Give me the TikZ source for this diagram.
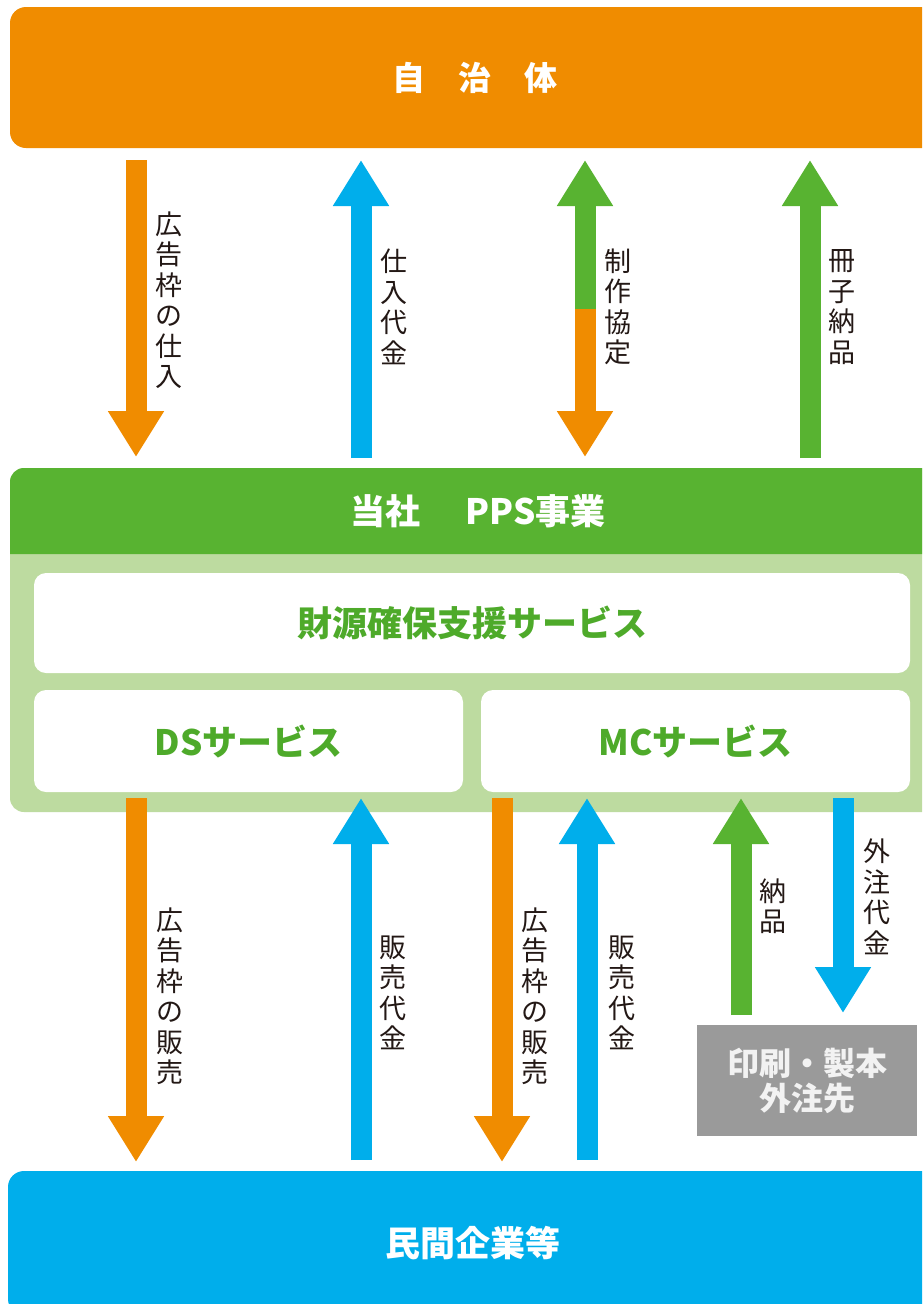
\documentclass[tikz,border=0pt]{standalone}
\usepackage{fontspec}
\usetikzlibrary{arrows.meta}
\newfontfamily\cjk{Noto Sans CJK JP}
\definecolor{cOrange}{RGB}{240,140,0}
\definecolor{cBlue}{RGB}{0,174,235}
\definecolor{cGreen}{RGB}{88,179,49}
\definecolor{cGreenText}{RGB}{78,170,42}
\definecolor{cLight}{RGB}{189,219,160}
\definecolor{cGray}{RGB}{154,154,154}
\definecolor{cGrayText}{RGB}{242,242,242}
\definecolor{cText}{RGB}{35,24,21}
\tikzset{
  arr/.style={line width=21pt},
  tipd/.style={-{Triangle[width=53pt,length=46pt]}},
  lbl/.style={font=\cjk\fontsize{27}{30.5}\selectfont, text=cText, align=center, inner sep=0pt},
  titlefont/.style={font=\cjk\bfseries\fontsize{35}{40}\selectfont, text=white},
  bigbox/.style={titlefont, inner sep=0pt, rounded corners=16pt, minimum width=930pt},
  wbox/.style={fill=white, rounded corners=12pt, inner sep=0pt, font=\cjk\bfseries\fontsize{35}{40}\selectfont, text=cGreenText},
}
\begin{document}
\begin{tikzpicture}[x=1pt,y=-1pt]
\clip (0,0) rectangle (922,1304);
\fill[white] (0,0) rectangle (922,1304);

% top box
\node[bigbox, fill=cOrange, minimum height=141pt, font=\cjk\bfseries\fontsize{33}{40}\selectfont] (jichitai) at (475,77.5) {自　治　体};

% PPS panel
\node[fill=cLight, rounded corners=14pt, minimum width=930pt, minimum height=344pt, inner sep=0pt] (panel) at (475,640) {};
\fill[cGreen] (10,554) {[rounded corners=14pt] -- (10,468) -- (940,468)} -- (940,554) -- cycle;
\node[titlefont, inner sep=0pt] (pps) at (478,511) {当社　\hspace{10pt}PPS事業};
\node[wbox, minimum width=876pt, minimum height=100pt] (zaigen) at (472,623) {財源確保支援サービス};
\node[wbox, minimum width=429pt, minimum height=102pt] (ds) at (248.5,741) {DSサービス};
\node[wbox, minimum width=429pt, minimum height=102pt] (mc) at (695.5,741) {MCサービス};

% bottom box
\node[bigbox, fill=cBlue, minimum height=144pt] (minkan) at (473,1243) {民間企業等};

% outsourcing box
\node[fill=cGray, minimum width=220pt, minimum height=111pt, inner sep=0pt, align=center,
      font=\cjk\bfseries\fontsize{32}{35}\selectfont, text=cGrayText] (gaichu) at (807,1080.5) {印刷・製本\\外注先};

% arrow end points (upper)
\coordinate (a1s) at (136,160); \coordinate (a1e) at (136,457);
\coordinate (a2s) at (361,458); \coordinate (a2e) at (361,160);
\coordinate (a3m) at (585,309); \coordinate (a3t) at (585,160); \coordinate (a3b) at (585,457);
\coordinate (a4s) at (810,458); \coordinate (a4e) at (810,160);
% lower
\coordinate (b1s) at (136,798); \coordinate (b1e) at (136,1162);
\coordinate (b2s) at (361,1160); \coordinate (b2e) at (361,798);
\coordinate (b3s) at (502,798); \coordinate (b3e) at (502,1162);
\coordinate (b4s) at (587,1160); \coordinate (b4e) at (587,798);
\coordinate (b5s) at (741,1015); \coordinate (b5e) at (741,798);
\coordinate (b6s) at (843,798); \coordinate (b6e) at (843,1013);

\draw[arr, tipd, cOrange] (a1s) -- (a1e);
\draw[arr, tipd, cBlue] (a2s) -- (a2e);
\draw[arr, tipd, cGreen] (a3m) -- (a3t);
\draw[arr, tipd, cOrange] (a3m) -- (a3b);
\draw[arr, tipd, cGreen] (a4s) -- (a4e);

\draw[arr, tipd, cOrange] (b1s) -- (b1e);
\draw[arr, tipd, cBlue] (b2s) -- (b2e);
\draw[arr, tipd, cOrange] (b3s) -- (b3e);
\draw[arr, tipd, cBlue] (b4s) -- (b4e);
\draw[arr, tipd, cGreen] (b5s) -- (b5e);
\draw[arr, tipd, cBlue] (b6s) -- (b6e);

% labels
\node[lbl] (l1) at (169,300) {広\\告\\枠\\の\\仕\\入};
\node[lbl] (l2) at (394,307) {仕\\入\\代\\金};
\node[lbl] (l3) at (618,307) {制\\作\\協\\定};
\node[lbl] (l4) at (842,307) {冊\\子\\納\\品};
\node[lbl] (l5) at (170,996) {広\\告\\枠\\の\\販\\売};
\node[lbl] (l6) at (393,993) {販\\売\\代\\金};
\node[lbl] (l7) at (535,996) {広\\告\\枠\\の\\販\\売};
\node[lbl] (l8) at (622,993) {販\\売\\代\\金};
\node[lbl] (l9) at (773,906) {納\\品};
\node[lbl] (l10) at (877,897) {外\\注\\代\\金};
\end{tikzpicture}
\end{document}
